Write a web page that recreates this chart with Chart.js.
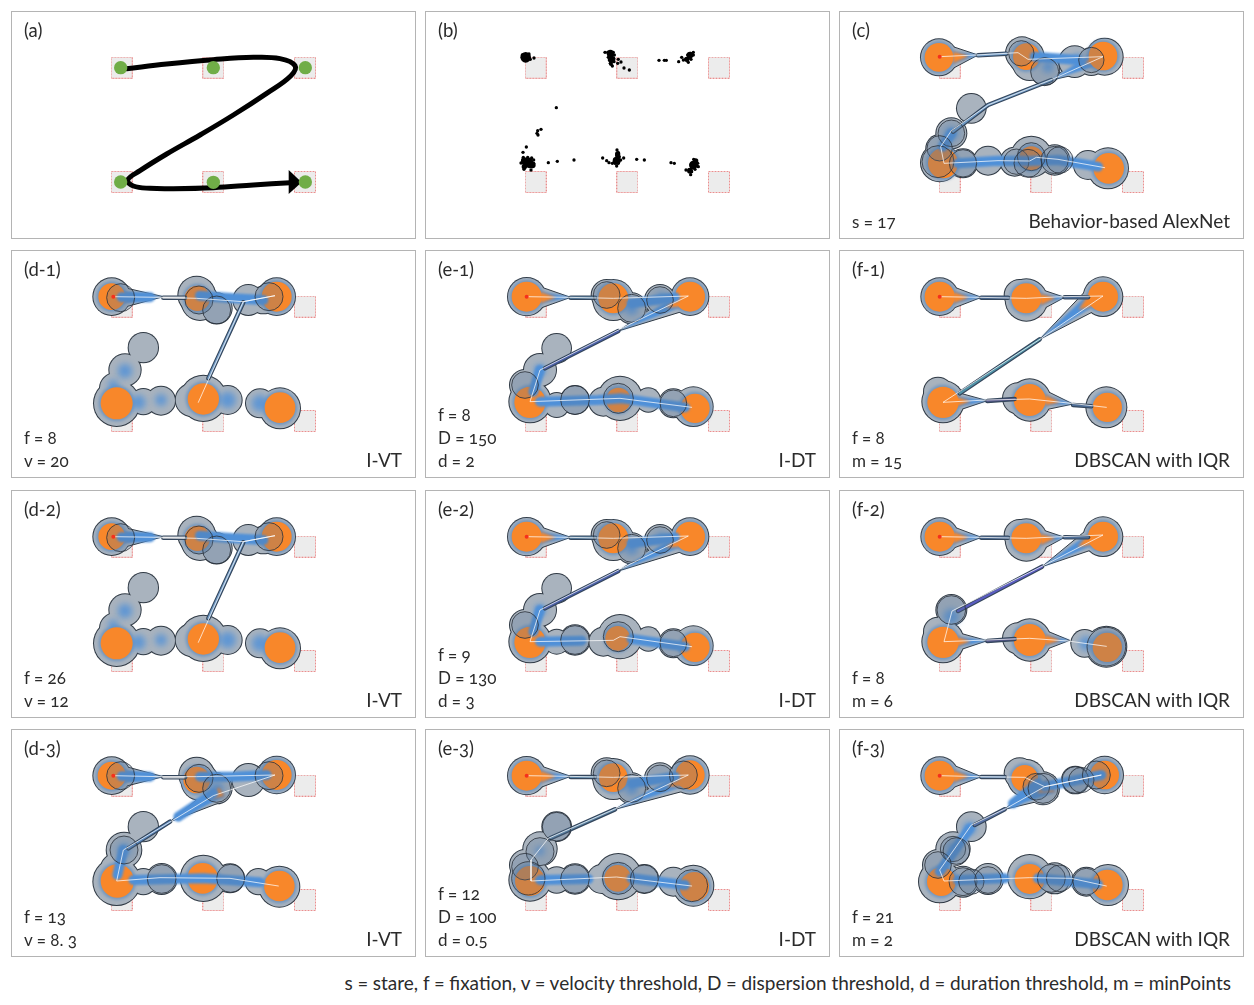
<!DOCTYPE html>
<html>
<head>
<meta charset="utf-8">
<script src="https://cdn.jsdelivr.net/npm/chart.js@4/dist/chart.umd.min.js"></script>
<style>
  html, body { margin: 0; background: #fff; }
  body { width: 1254px; height: 1005px; position: relative; overflow: hidden;
         font-family: Lato, "Open Sans", sans-serif; color: #2b2b2b; font-feature-settings: "onum"; }
  .panel { position: absolute; width: 405px; height: 228px; box-sizing: border-box; border: 1px solid #b4b4b4; }
  .panel canvas { position: absolute; left: -1px; top: -1px; }
  .txt { position: absolute; font-size: 17px; line-height: 20px; white-space: nowrap; }
  .lab { font-size: 18.5px; }
  .algo { position: absolute; right: 13px; top: 198px; font-size: 19px; line-height: 22px; white-space: nowrap; }
  #note { position: absolute; right: 23px; top: 972px; font-size: 19px; line-height: 22px; white-space: nowrap; }
</style>
</head>
<body>
<div id="note">s = stare, f = fixation, v = velocity threshold, D = dispersion threshold, d = duration threshold, m = minPoints</div>
<script>
const targetsX = [332, 607, 882];
const targetsY = [170, 513];

// (a)
const a_dots = [[362,203],[640,203],[916,203],[362,546],[640,547],[916,546]];
const a_path = [[380,206],[500,192],[640,179],[760,172],[840,176],[885,197],[872,228],[800,280],[700,345],[600,405],[500,462],[420,512],[383,540],[400,558],[450,565],[520,566],[640,563],[760,555],[870,548]];
const a_head = [[866,510],[905,547],[866,582],[866,510]];

// (b)
const b_points = [
  [327,174],[292,165],[312,162],[316,178],
  [540,157],[548,157],[556,157],[565,157],[552,165],[560,165],[568,165],[550,172],[558,172],[566,175],[553,180],[560,182],[567,185],[556,190],[562,198],[580,178],[578,190],[588,186],[597,204],[613,210],
  [702,181],[718,181],[724,181],[761,185],[770,172],[775,180],[783,178],[790,187],[790,175],[797,170],[788,165],[796,160],[805,157],[798,178],[805,165],
  [394,323],[348,388],[338,392],[336,400],[339,405],[304,441],[294,457],
  [295,472],[300,480],[288,489],[296,490],[304,488],[312,480],[320,474],[326,480],[316,490],[326,490],[296,498],[304,498],[314,500],[322,500],[297,508],[318,510],[308,472],[293,482],
  [370,488],[397,484],[447,480],
  [533,474],[545,482],[552,488],[576,450],[580,458],[575,467],[583,470],[570,478],[578,478],[587,480],[596,474],[562,490],[570,490],[580,490],[575,498],[568,485],
  [635,478],[658,480],
  [738,488],[748,490],[806,478],[812,485],[818,490],[806,495],[815,497],[800,503],[810,508],[783,510],[792,510],[800,515],[797,524],[820,500]
];
const b_clumps = [[302,172,16],[556,160,11],[560,178,11],[558,192,6],[795,165,10],[785,178,8],[310,488,15],[298,482,10],[298,500,8],[322,495,10],[575,482,12],[578,462,8],[805,495,13],[812,483,8],[795,512,9]];

// (c)
const c_halo = [[303,172,54],[552,160,48],[565,170,52],[575,190,50],[620,210,44],[710,185,46],[760,185,40],[800,170,54],[400,325,43],[340,400,45],[305,445,40],[305,488,56],[375,490,42],[450,482,42],[530,485,42],[580,470,60],[650,480,44],[750,495,42],[810,505,60]];
const c_core = [[303,172,43],[565,170,40],[795,168,43],[315,490,45],[580,475,36],[812,505,46]];
const c_blue = [[340,400,20],[320,430,15],[720,180,18],[630,200,18]];
const c_ring = [[550,160,38],[620,215,42],[760,180,38],[340,400,40],[305,445,38],[300,485,48],[375,490,41],[535,485,38],[580,470,42],[570,490,42],[650,480,41],[665,480,40]];
const c_taper = [[[770,135],[640,240],[800,205]],[[345,140],[420,165],[345,205]]];
const c_tube = [[[420,166],[505,161]],[[640,240],[450,315],[345,395]]];
const c_band = [[[590,170],[720,180]],[[360,490],[480,482],[575,483],[660,480],[780,500]],[[340,400],[315,440]]];
const c_gaze = [[305,170],[415,165],[540,158],[570,178],[795,170],[650,235],[450,315],[340,392],[308,440],[318,490],[480,482],[575,483],[595,472],[660,478],[800,503]];

// (d-1), (d-2) look the same
const d1_halo = [[335,155,55],[590,150,55],[600,170,55],[650,190,45],[745,165,45],[790,165,40],[830,155,55],[430,308,44],[375,375,47],[345,430,45],[350,475,68],[430,470,38],[483,467,42],[575,465,48],[610,460,68],[683,465,42],[780,475,42],[840,490,60]];
const d1_core = [[335,155,40],[592,160,38],[830,155,45],[350,475,48],[610,462,47],[840,488,46]];
const d1_blue = [[375,378,22],[415,472,22],[483,465,18],[683,465,25],[780,475,25],[340,420,16]];
const d1_ring = [[362,158,42],[597,165,42],[650,195,42],[807,155,42]];
const d1_taper = [[[360,125],[490,155],[360,190]]];
const d1_tube = [[[490,158],[555,158]],[[730,172],[625,400]]];
const d1_band = [[[365,157],[450,157]],[[600,152],[700,160],[790,165]]];
const d1_gaze = [[340,155],[480,157],[590,160],[730,170],[825,152],[730,170],[595,472]];

// (d-3)
const d3_halo = [[335,152,55],[590,150,52],[600,170,55],[650,190,45],[745,165,48],[830,150,55],[430,305,44],[372,375,52],[345,430,42],[350,470,70],[430,470,38],[485,462,45],[610,460,68],[690,460,42],[775,470,38],[838,485,60]];
const d3_core = [[335,152,42],[590,165,40],[830,150,45],[352,468,50],[608,460,46],[838,483,46]];
const d3_blue = [[372,375,20],[650,190,20]];
const d3_ring = [[362,152,42],[597,160,42],[650,190,42],[807,152,42],[372,375,42],[485,462,43],[692,460,42]];
const d3_taper = [[[360,120],[490,155],[360,188]],[[650,175],[510,290],[680,225]]];
const d3_tube = [[[490,157],[555,157]],[[510,290],[385,370]]];
const d3_band = [[[365,154],[450,155]],[[600,155],[700,155],[800,150]],[[640,205],[535,275]],[[370,375],[352,450]],[[400,465],[610,460],[780,472]]];
const d3_gaze = [[340,152],[480,155],[590,155],[825,150],[640,212],[515,288],[370,375],[350,468],[480,458],[690,460],[835,483]];

// (e-1)
const e1_halo = [[305,155,56],[545,150,45],[565,165,60],[620,190,45],[705,165,45],[795,155,55],[395,310,43],[345,375,48],[300,420,45],[315,470,62],[395,480,36],[450,465,42],[535,470,42],[585,460,65],[670,465,35],[745,475,42],[805,485,58]];
const e1_core = [[305,155,45],[565,160,45],[795,155,45],[315,472,47],[580,465,37],[810,490,44]];
const e1_blue = [[345,375,18],[710,160,18],[620,190,20]];
const e1_ring = [[545,150,40],[620,190,42],[705,165,40],[300,420,40],[450,465,43],[580,460,45],[745,475,40]];
const e1_taper = [[[345,125],[437,157],[345,190]],[[760,135],[580,258],[770,200]]];
const e1_tube = [[[437,158],[510,158]],[[580,258],[360,370]]];
const e1_band = [[[345,375],[325,440]],[[345,470],[520,465],[590,460],[780,487]],[[620,175],[750,157]]];
const e1_gaze = [[305,155],[430,157],[565,160],[790,153],[600,245],[345,375],[315,470],[585,460],[800,487]];

// (e-2)
const e2_halo = [[305,155,56],[545,150,45],[565,165,60],[620,190,45],[705,165,45],[795,155,55],[395,310,43],[345,375,48],[300,420,45],[315,470,62],[395,470,36],[450,465,44],[535,470,42],[585,455,65],[670,462,35],[745,475,42],[805,482,58]];
const e2_core = [[305,155,45],[565,160,45],[795,155,45],[315,472,47],[578,460,37],[810,487,44]];
const e2_blue = [[345,375,18],[710,160,18],[620,190,20]];
const e2_ring = [[545,150,40],[620,190,42],[705,165,40],[300,420,40],[450,465,43],[580,455,45],[745,475,40]];
const e2_taper = e1_taper;
const e2_tube = e1_tube;
const e2_band = [[[345,375],[325,440]],[[345,470],[470,467]],[[620,462],[780,485]],[[620,175],[750,157]]];
const e2_gaze = [[305,155],[430,157],[565,160],[790,153],[600,245],[345,375],[315,470],[565,466],[585,455],[800,485]];

// (e-3)
const e3_halo = [[305,152,56],[545,145,45],[565,162,60],[620,190,45],[705,160,45],[795,150,56],[395,305,43],[345,372,50],[300,420,45],[315,465,62],[395,465,38],[450,462,44],[530,462,42],[580,455,68],[658,462,42],[745,470,42],[805,482,60]];
const e3_core = [[305,152,45],[565,158,43],[795,150,44],[315,468,45],[578,460,40],[808,485,44]];
const e3_blue = [[620,190,20],[345,378,14]];
const e3_ring = [[545,145,40],[620,190,42],[705,160,40],[775,150,42],[395,305,43],[345,380,42],[300,425,40],[310,460,50],[450,462,43],[580,460,48],[658,462,42],[800,482,48]];
const e3_taper = [[[770,130],[570,253],[770,200]],[[345,122],[437,154],[345,188]]];
const e3_tube = [[[437,156],[510,156]],[[570,253],[375,340]]];
const e3_band = [[[345,465],[490,462]],[[620,460],[780,480]],[[620,175],[750,155]]];
const e3_gaze = [[305,152],[430,154],[565,157],[790,150],[590,243],[370,340],[318,405],[318,468],[575,456],[800,483]];

// (f-1)
const f1_halo = [[305,155,55],[545,150,45],[565,165,62],[795,155,58],[315,470,62],[300,440,42],[540,460,45],[575,465,62],[805,487,60]];
const f1_core = [[305,155,45],[565,160,45],[795,155,45],[315,472,47],[575,465,48],[808,487,44]];
const f1_blue = [];
const f1_ring = [];
const f1_taper = [[[345,125],[430,157],[345,190]],[[600,130],[680,157],[610,195]],[[745,135],[605,283],[775,195]],[[350,440],[448,467],[350,500]],[[620,435],[705,477],[620,495]]];
const f1_tube = [[[430,158],[510,158]],[[680,157],[750,157]],[[605,283],[365,445]],[[448,468],[530,462]],[[705,480],[760,484]]];
const f1_band = [];
const f1_gaze = [[305,155],[425,157],[565,160],[675,155],[795,153],[610,280],[315,472],[445,465],[575,462],[700,475],[805,487]];

// (f-2)
const f2_halo = [[305,155,55],[545,150,45],[565,165,62],[795,155,58],[340,375,45],[300,440,42],[315,470,62],[540,460,45],[575,465,62],[740,475,40],[805,485,60]];
const f2_core = [[305,155,45],[565,160,45],[795,155,45],[315,472,47],[575,465,48],[808,487,44]];
const f2_blue = [[340,395,24],[745,475,22]];
const f2_ring = [[340,375,43],[805,485,58]];
const f2_taper = [[[345,125],[430,157],[345,190]],[[600,130],[680,157],[610,195]],[[745,135],[612,245],[775,190]],[[350,440],[448,467],[350,500]],[[620,435],[695,466],[620,495]]];
const f2_tube = [[[430,158],[510,158]],[[680,157],[750,157]],[[612,245],[360,378]],[[448,468],[530,462]]];
const f2_band = [];
const f2_gaze = [[305,155],[425,157],[565,160],[675,155],[795,150],[620,240],[342,378],[318,470],[445,465],[575,460],[690,468],[805,484]];

// (f-3)
const f3_halo = [[305,152,55],[545,145,45],[565,160,55],[615,190,48],[712,165,40],[800,150,55],[400,305,43],[345,372,50],[300,420,45],[305,470,62],[375,470,45],[450,462,45],[575,455,65],[650,460,45],[745,470,42],[810,480,60]];
const f3_core = [[305,152,45],[560,160,40],[800,150,43],[310,470,43],[575,462,45],[808,480,46]];
const f3_blue = [[395,310,20],[345,372,18]];
const f3_ring = [[595,185,40],[615,190,45],[712,165,40],[730,165,38],[775,150,42],[345,372,38],[355,378,40],[300,420,40],[375,470,42],[400,470,38],[450,465,40],[640,460,42],[665,460,40],[745,470,40]];
const f3_taper = [[[345,120],[430,155],[345,188]],[[620,150],[500,253],[660,215]]];
const f3_tube = [[[430,156],[500,156]],[[500,253],[410,300]]];
const f3_band = [[[620,185],[790,150]],[[395,310],[305,440]],[[360,465],[500,460]],[[600,460],[780,478]],[[600,175],[525,235]]];
const f3_gaze = [[305,152],[425,155],[560,157],[620,185],[790,150],[620,185],[505,250],[400,300],[305,435],[318,468],[575,458],[700,460],[805,483]];

const panelLabels = ["(a)","(b)","(c)","(d-1)","(e-1)","(f-1)","(d-2)","(e-2)","(f-2)","(d-3)","(e-3)","(f-3)"];
const panelAlgos = ["","","Behavior-based AlexNet","I-VT","I-DT","DBSCAN with IQR","I-VT","I-DT","DBSCAN with IQR","I-VT","I-DT","DBSCAN with IQR"];
const panelParams = [[],[],["s = 17"],["f = 8","v = 20"],["f = 8","D = 150","d = 2"],["f = 8","m = 15"],["f = 26","v = 12"],["f = 9","D = 130","d = 3"],["f = 8","m = 6"],["f = 13","v = 8. 3"],["f = 12","D = 100","d = 0.5"],["f = 21","m = 2"]];

// where each panel sits on the page, and where its data window starts
const colLeft = [11, 425, 839];
const rowTop = [11, 250, 490, 729];
const colStart = [33, 0, 3];
const rowStart = [33, 15, 15, 12];

const GRAY = "#a9b3be", EDGE = "#2f3944", ORANGE = "#f8872a", BLUE = "#4f90d8", HALO_BLUE = "#7196bf";

// dashed red square for the gaze targets
function targetImage() {
  const c = document.createElement("canvas");
  c.width = 22; c.height = 22;
  const g = c.getContext("2d");
  g.fillStyle = "#ececec";
  g.fillRect(1, 1, 20, 20);
  g.strokeStyle = "#e88f8f";
  g.setLineDash([2, 1]);
  g.strokeRect(0.5, 0.5, 21, 21);
  return c;
}
const targetImg = targetImage();

// ctx.filter around one dataset, filler has to come after this so its fills get blurred too
const blurPlugin = {
  id: "blurLayer",
  beforeDatasetDraw(chart, args) {
    const b = chart.data.datasets[args.index].blur;
    if (b) { chart.ctx.save(); chart.ctx.filter = "blur(" + b + "px)"; }
  },
  afterDatasetDraw(chart, args) {
    if (chart.data.datasets[args.index].blur) chart.ctx.restore();
  }
};
Chart.register(blurPlugin);
Chart.unregister(Chart.Filler);
Chart.register(Chart.Filler);

function xy(list) { return list.map(p => ({ x: p[0], y: p[1] })); }
function bubbles(list, grow) { return list.map(p => ({ x: p[0], y: p[1], r: p[2] / 3 + (grow || 0) })); }

function bubbleSet(data, color, extra) {
  return Object.assign({ type: "bubble", data: data, backgroundColor: color, borderWidth: 0 }, extra);
}
function lineSet(list, color, width, extra) {
  return Object.assign({ type: "line", data: xy(list), borderColor: color, borderWidth: width, pointRadius: 0, tension: 0, fill: false, borderCapStyle: "round", borderJoinStyle: "round" }, extra);
}

// taper triangle pulled towards its axis, base is vertex 0 and 2, tip is vertex 1
function shrink(tri, k, reach) {
  const mx = (tri[0][0] + tri[2][0]) / 2, my = (tri[0][1] + tri[2][1]) / 2;
  const len = Math.hypot(tri[1][0] - mx, tri[1][1] - my);
  const t = Math.min(1, reach / len);
  const a = [mx + (tri[0][0] - mx) * k, my + (tri[0][1] - my) * k];
  const b = [mx + (tri[2][0] - mx) * k, my + (tri[2][1] - my) * k];
  const tip = [mx + (tri[1][0] - mx) * t, my + (tri[1][1] - my) * t];
  return [a, tip, b, a];
}

function targetSet(col, row) {
  const pts = [];
  targetsY.forEach(y => targetsX.forEach(x => pts.push({ x: x + colStart[col], y: y + rowStart[row] })));
  return { type: "scatter", data: pts, pointStyle: targetImg, pointRadius: 11, showLine: false };
}

function gazeLayers(halo, core, blue, ring, taper, tube, band, gaze, tubeColors) {
  const sets = [];
  sets.push(bubbleSet(bubbles(halo, 1), EDGE));
  taper.forEach(t => sets.push(lineSet(t.concat([t[0]]), EDGE, 1, { fill: "shape", backgroundColor: GRAY })));
  sets.push(bubbleSet(bubbles(halo), GRAY));
  sets.push(bubbleSet(bubbles(core, 2), HALO_BLUE, { blur: 1.5 }));
  sets.push(bubbleSet(bubbles(blue), "rgba(79,144,216,0.8)", { blur: 3 }));
  taper.forEach(t => {
    sets.push(lineSet(shrink(t, 0.6, 999), BLUE, 0, { fill: "shape", backgroundColor: BLUE, blur: 1 }));
  });
  taper.forEach(t => {
    sets.push(lineSet(shrink(t, 0.55, 48), ORANGE, 0, { fill: "shape", backgroundColor: ORANGE, blur: 1.5 }));
  });
  sets.push(bubbleSet(bubbles(core), ORANGE, { blur: 0.7 }));
  band.forEach(b => sets.push(lineSet(b, BLUE, 10, { blur: 1.2 })));
  tube.forEach((t, i) => {
    sets.push(lineSet(t, "#34465c", 4.5));
    sets.push(lineSet(t, tubeColors[i % tubeColors.length], 2.2));
  });
  sets.push(bubbleSet(bubbles(ring), "rgba(85,115,150,0.26)", { borderColor: "#2a3038", borderWidth: 0.8 }));
  sets.push(lineSet(gaze, "rgba(255,255,255,0.72)", 1));
  sets.push(bubbleSet(bubbles([[gaze[0][0], gaze[0][1], 6]]), "#f5301c", { blur: 0.5 }));
  return sets;
}

const STEEL = ["#6d98c4"];
const panelSets = [
  () => [lineSet(a_path, "#000", 5, { tension: 0.4 }),
    lineSet(a_head, "#000", 0, { fill: "shape", backgroundColor: "#000" }),
    bubbleSet(bubbles(a_dots.map(p => [p[0], p[1], 20])), "#70ad47")],
  () => [bubbleSet(bubbles(b_clumps), "#000"), bubbleSet(bubbles(b_points.map(p => [p[0], p[1], 5])), "#000")],
  () => gazeLayers(c_halo, c_core, c_blue, c_ring, c_taper, c_tube, c_band, c_gaze, STEEL),
  () => gazeLayers(d1_halo, d1_core, d1_blue, d1_ring, d1_taper, d1_tube, d1_band, d1_gaze, ["#c3c8ce", "#6d98c4"]),
  () => gazeLayers(e1_halo, e1_core, e1_blue, e1_ring, e1_taper, e1_tube, e1_band, e1_gaze, ["#5f87a8", "#4a5fa8"]),
  () => gazeLayers(f1_halo, f1_core, f1_blue, f1_ring, f1_taper, f1_tube, f1_band, f1_gaze, ["#4f6f98", "#4f6f98", "#4f93a8", "#55588a", "#4f6f98"]),
  () => gazeLayers(d1_halo, d1_core, d1_blue, d1_ring, d1_taper, d1_tube, d1_band, d1_gaze, ["#c3c8ce", "#6d98c4"]),
  () => gazeLayers(e2_halo, e2_core, e2_blue, e2_ring, e2_taper, e2_tube, e2_band, e2_gaze, ["#5f87a8", "#4a5fa8"]),
  () => gazeLayers(f2_halo, f2_core, f2_blue, f2_ring, f2_taper, f2_tube, f2_band, f2_gaze, ["#4f6f98", "#4f6f98", "#5a5cc0", "#55588a"]),
  () => gazeLayers(d3_halo, d3_core, d3_blue, d3_ring, d3_taper, d3_tube, d3_band, d3_gaze, ["#c3c8ce", "#5b88bd"]),
  () => gazeLayers(e3_halo, e3_core, e3_blue, e3_ring, e3_taper, e3_tube, e3_band, e3_gaze, ["#5f87a8", "#5f87a8"]),
  () => gazeLayers(f3_halo, f3_core, f3_blue, f3_ring, f3_taper, f3_tube, f3_band, f3_gaze, ["#6d8fb5", "#5a73a5"])
];

panelLabels.forEach((label, i) => {
  const col = i % 3, row = Math.floor(i / 3);
  const box = document.createElement("div");
  box.className = "panel";
  box.style.left = colLeft[col] + "px";
  box.style.top = rowTop[row] + "px";
  document.body.appendChild(box);

  const canvas = document.createElement("canvas");
  canvas.width = 405; canvas.height = 228;
  box.appendChild(canvas);

  const t = document.createElement("div");
  t.className = "txt lab";
  t.style.left = "12px"; t.style.top = "8px";
  t.textContent = label;
  box.appendChild(t);

  const params = panelParams[i];
  params.forEach((p, k) => {
    const d = document.createElement("div");
    d.className = "txt";
    d.style.left = "12px";
    d.style.top = (200 - (params.length - 1 - k) * 23) + "px";
    d.textContent = p;
    box.appendChild(d);
  });

  if (panelAlgos[i]) {
    const a = document.createElement("div");
    a.className = "algo";
    a.textContent = panelAlgos[i];
    box.appendChild(a);
  }

  const datasets = [targetSet(col, row)].concat(panelSets[i]());
  datasets.forEach((d, k) => { d.order = datasets.length - k; });

  new Chart(canvas.getContext("2d"), {
    type: "scatter",
    data: { datasets: datasets },
    options: {
      responsive: false,
      animation: false,
      events: [],
      layout: { padding: 0, autoPadding: false },
      plugins: { legend: { display: false }, tooltip: { enabled: false }, title: { display: false } },
      scales: {
        x: { type: "linear", display: false, min: colStart[col], max: colStart[col] + 1215 },
        y: { type: "linear", display: false, reverse: true, min: rowStart[row], max: rowStart[row] + 684 }
      }
    }
  });
});
</script>
</body>
</html>
